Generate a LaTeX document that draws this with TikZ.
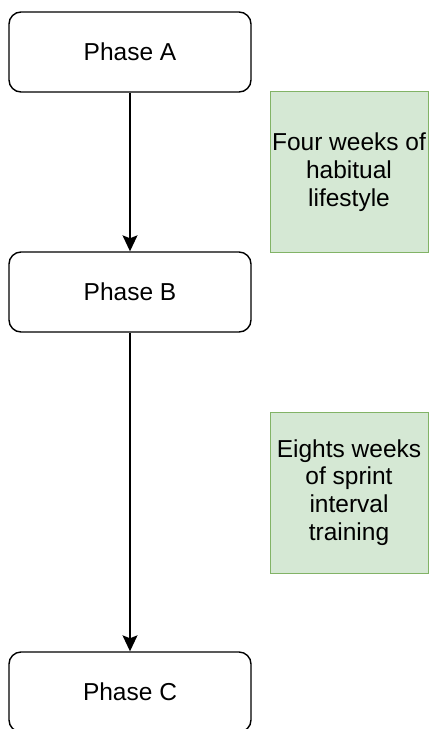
\documentclass[tikz,border=0pt]{standalone}
\usepackage{fontspec}
\setmainfont{Liberation Sans}
\usetikzlibrary{arrows.meta}
\definecolor{notefill}{HTML}{D5E8D4}
\definecolor{notedraw}{HTML}{82B366}

\begin{document}
\begin{tikzpicture}[x=1pt,y=-1pt,
    phase/.style={draw=black, line width=1.4pt, rounded corners=12pt, fill=white,
      minimum width=242pt, minimum height=80pt, inner sep=0pt,
      font=\fontsize{24.5}{28}\selectfont},
    note/.style={draw=notedraw, line width=1pt, fill=notefill,
      minimum width=158pt, minimum height=161pt, inner sep=0pt,
      align=center, font=\fontsize{24.5}{27.7}\selectfont},
    flow/.style={line width=1.4pt, -{Stealth[length=16pt,width=15pt,inset=3pt]}}]
    \clip (0,0) rectangle (430,729);

    % phases
    \node[phase] (phaseA) at (130,52) {Phase A};
    \node[phase] (phaseB) at (130,292) {Phase B};
    \node[phase] (phaseC) at (130,692) {Phase C};

    % notes beside the arrows
    \node[note] (habit) at (349,172) {Four weeks of\\habitual\\lifestyle};
    \node[note] (sprint) at (349,492.5) {Eights weeks\\of sprint\\interval\\training};

    \draw[flow] (phaseA) -- (phaseB);
    \draw[flow] (phaseB) -- (phaseC);
\end{tikzpicture}
\end{document}
